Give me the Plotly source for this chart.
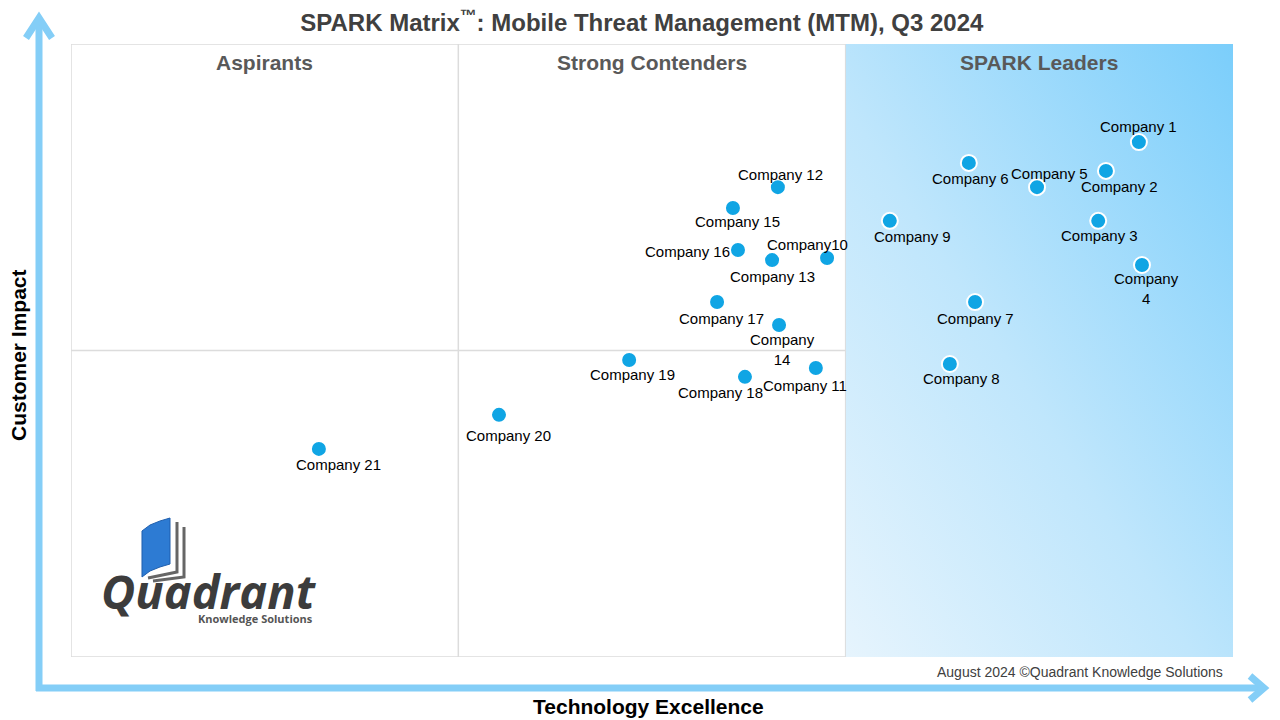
import base64

import plotly.graph_objects as go

# Data
companies = [
    "Company 1", "Company 2", "Company 3", "Company<br>4", "Company 5",
    "Company 6", "Company 7", "Company 8", "Company 9", "Company10",
    "Company 11", "Company 12", "Company 13", "Company<br>14", "Company 15",
    "Company 16", "Company 17", "Company 18", "Company 19", "Company 20",
    "Company 21",
]
technology_excellence = [
    2.757, 2.672, 2.652, 2.765, 2.494,
    2.318, 2.334, 2.269, 2.114, 1.952,
    1.923, 1.825, 1.810, 1.828, 1.709,
    1.722, 1.668, 1.740, 1.441, 1.105,
    0.640,
]
customer_impact = [
    1.680, 1.586, 1.423, 1.279, 1.533,
    1.612, 1.158, 0.956, 1.423, 1.302,
    0.943, 1.533, 1.295, 1.083, 1.465,
    1.328, 1.158, 0.914, 0.969, 0.790,
    0.679,
]
quadrant_names = ["Aspirants", "Strong Contenders", "SPARK Leaders"]

# label offsets from the marker centre, in pixels (dx right, dy down)
label_offsets = [
    (0, -16), (14, 16), (1, 15), (5, 24), (12, -14),
    (2, 16), (0, 16), (12, 15), (23, 16), (-20, -13),
    (-11, 18), (3, -13), (0, 16), (3, 24), (5, 14),
    (-50, 2), (4, 16), (-24, 16), (3, 14), (9, 21),
    (20, 16),
]

# The page is drawn 8px in from the top-left corner, so the figure is 8px smaller
OFF = 8
W, H = 1280 - OFF, 720 - OFF
M_L, M_R, M_T, M_B = 71 - OFF, 47, 44 - OFF, 63
PLOT_W, PLOT_H = W - M_L - M_R, H - M_T - M_B
FONT = "Liberation Sans, Arial, sans-serif"
ARROW = "#84cef7"
GRID = "#dcdcdc"


def px(x):
    # reference picture x pixel -> paper coordinate
    return (x - OFF - M_L) / PLOT_W


def py(y):
    return (H - M_B - (y - OFF)) / PLOT_H


def paper_path(points, close=True):
    d = "M " + " L ".join(f"{px(a):.5f},{py(b):.5f}" for a, b in points)
    return d + (" Z" if close else "")


# gradient background for the leaders area
svg = (
    '<svg xmlns="http://www.w3.org/2000/svg" width="100" height="100" preserveAspectRatio="none">'
    '<defs><linearGradient id="g" x1="0" y1="1" x2="1" y2="0">'
    '<stop offset="0" stop-color="#e6f4fd"/><stop offset="0.45" stop-color="#bfe6fc"/>'
    '<stop offset="1" stop-color="#7bcefb"/></linearGradient></defs>'
    '<rect width="100" height="100" fill="url(#g)"/></svg>'
)
svg_uri = "data:image/svg+xml;base64," + base64.b64encode(svg.encode()).decode()

fig = go.Figure()

fig.add_trace(go.Scatter(
    x=technology_excellence,
    y=customer_impact,
    mode="markers",
    text=companies,
    marker=dict(size=16, color="#10a5e4", line=dict(color="white", width=2)),
    hoverinfo="text",
    showlegend=False,
    cliponaxis=False,
))

shapes = [
    dict(type="rect", x0=0, x1=3, y0=0, y1=2, xref="x", yref="y",
         line=dict(color=GRID, width=1.5), layer="below"),
    dict(type="line", x0=1, x1=1, y0=0, y1=2, xref="x", yref="y",
         line=dict(color=GRID, width=1.5), layer="below"),
    dict(type="line", x0=2, x1=2, y0=0, y1=2, xref="x", yref="y",
         line=dict(color=GRID, width=1.5), layer="below"),
    dict(type="line", x0=0, x1=3, y0=1, y1=1, xref="x", yref="y",
         line=dict(color=GRID, width=1.5), layer="below"),
    # axis arrows
    dict(type="line", xref="paper", yref="paper", x0=px(39), x1=px(39), y0=py(691), y1=py(20),
         line=dict(color=ARROW, width=7)),
    dict(type="path", xref="paper", yref="paper",
         path=paper_path([(26, 38), (39, 18), (52, 38)], close=False),
         line=dict(color=ARROW, width=7)),
    dict(type="line", xref="paper", yref="paper", x0=px(36), x1=px(1262), y0=py(688), y1=py(688),
         line=dict(color=ARROW, width=7)),
    dict(type="path", xref="paper", yref="paper",
         path=paper_path([(1250, 676), (1264, 688), (1250, 700)], close=False),
         line=dict(color=ARROW, width=7)),
    # logo book
    dict(type="path", xref="paper", yref="paper",
         path=paper_path([(142, 531), (150, 525), (160, 521), (170, 518), (170, 564),
                          (160, 567), (150, 571), (142, 577)]),
         fillcolor="#2d7bd3", line=dict(color="#1f5fae", width=1)),
    dict(type="path", xref="paper", yref="paper",
         path=paper_path([(177, 522), (177, 572), (148, 578)], close=False),
         line=dict(color="#666666", width=3)),
    dict(type="path", xref="paper", yref="paper",
         path=paper_path([(184, 527), (184, 577), (153, 581)], close=False),
         line=dict(color="#666666", width=3)),
]

annotations = [
    dict(text=name, x=xv, y=yv, xref="x", yref="y", xanchor="center", yanchor="middle",
         xshift=dx, yshift=-dy, showarrow=False,
         font=dict(family=FONT, size=15, color="#000000"))
    for name, xv, yv, (dx, dy) in zip(companies, technology_excellence, customer_impact, label_offsets)
]
annotations += [
    dict(text=f"<b>{name}</b>", x=i + 0.5, y=2, xref="x", yref="y", xanchor="center",
         yanchor="middle", yshift=-18, showarrow=False,
         font=dict(family=FONT, size=21, color="#595959"))
    for i, name in enumerate(quadrant_names)
]
annotations += [
    dict(text="<b>Customer Impact</b>", x=px(18), y=py(355), xref="paper", yref="paper",
         xanchor="center", yanchor="middle", textangle=-90, showarrow=False,
         font=dict(family=FONT, size=21, color="#000000")),
    dict(text="<b>Technology Excellence</b>", x=px(648), y=py(706), xref="paper", yref="paper",
         xanchor="center", yanchor="middle", showarrow=False,
         font=dict(family=FONT, size=21, color="#000000")),
    dict(text="August 2024 ©Quadrant Knowledge Solutions", x=px(1225), y=py(672),
         xref="paper", yref="paper", xanchor="right", yanchor="middle", showarrow=False,
         font=dict(family=FONT, size=14, color="#404040")),
    dict(text="<b><i>Quadrant</i></b>", x=px(209), y=py(591), xref="paper", yref="paper",
         xanchor="center", yanchor="middle", showarrow=False,
         font=dict(family="Open Sans, sans-serif", size=47, color="#3c3c3c")),
    dict(text="<b>Knowledge Solutions</b>", x=px(255), y=py(618), xref="paper", yref="paper",
         xanchor="center", yanchor="middle", showarrow=False,
         font=dict(family="Open Sans, sans-serif", size=11, color="#555555")),
]

fig.update_layout(
    width=W, height=H,
    margin=dict(l=M_L, r=M_R, t=M_T, b=M_B),
    paper_bgcolor="white",
    plot_bgcolor="rgba(0,0,0,0)",
    title=dict(text="<b>SPARK Matrix<sup>™</sup>: Mobile Threat Management (MTM), Q3 2024</b>",
               x=px(650), xanchor="center", y=1 - (23 - OFF) / H, yanchor="middle",
               font=dict(family=FONT, size=24, color="#404040")),
    xaxis=dict(range=[0, 3], visible=False, fixedrange=True),
    yaxis=dict(range=[0, 2], visible=False, fixedrange=True),
    images=[dict(source=svg_uri, xref="x", yref="y", x=2, y=2, sizex=1, sizey=2,
                 sizing="stretch", xanchor="left", yanchor="top", layer="below")],
    shapes=shapes,
    annotations=annotations,
)

fig.write_html("out.html")
